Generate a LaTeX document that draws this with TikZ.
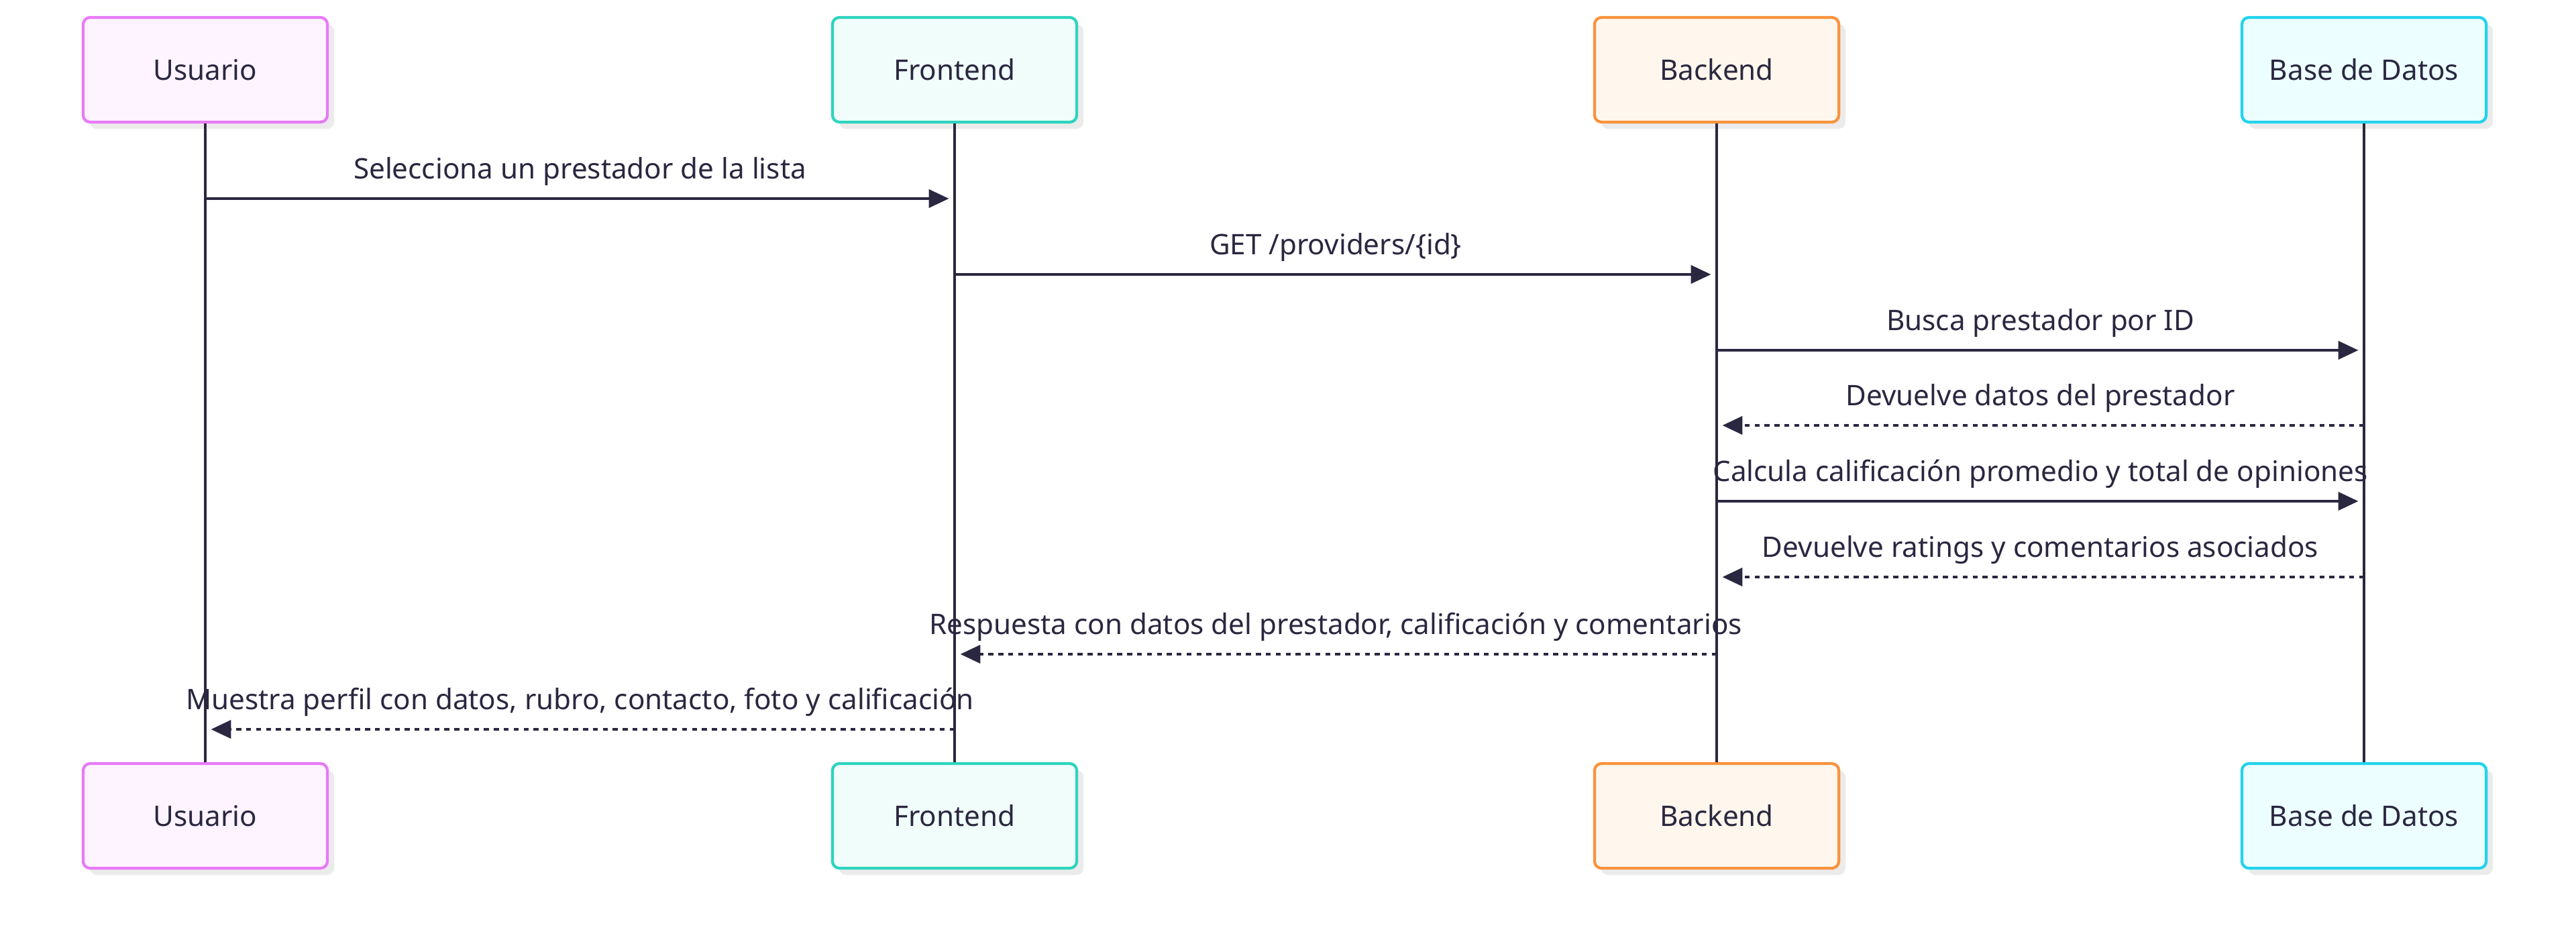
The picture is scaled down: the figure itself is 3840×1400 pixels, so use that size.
\documentclass[tikz,border=0pt]{standalone}
\usepackage{fontspec}
\setmainfont{Noto Sans}
\usetikzlibrary{arrows.meta,shadows}
\definecolor{ink}{HTML}{2A2740}
\definecolor{uBor}{HTML}{E879F9}\definecolor{uFil}{HTML}{FDF4FF}
\definecolor{fBor}{HTML}{2DD4BF}\definecolor{fFil}{HTML}{F0FDFA}
\definecolor{bBor}{HTML}{FB923C}\definecolor{bFil}{HTML}{FFF7ED}
\definecolor{dBor}{HTML}{22D3EE}\definecolor{dFil}{HTML}{ECFEFF}
\definecolor{shade}{HTML}{EBEBEB}
\begin{document}
\begin{tikzpicture}[x=0.01cm,y=-0.01cm,
  font=\fontsize{12pt}{14pt}\selectfont, text=ink,
  actor/.style={draw=#1Bor, fill=#1Fil, line width=1.2pt, rounded corners=3pt,
    minimum width=3.64cm, minimum height=1.56cm, inner sep=0pt,
    drop shadow={shadow xshift=0.1cm, shadow yshift=-0.1cm, fill=shade, opacity=1}},
  life/.style={draw=ink, line width=1pt},
  msg/.style={draw=ink, line width=1.35pt, -{Triangle[length=8.5pt,width=7.6pt]}, shorten >=2.4pt},
  reply/.style={msg, dash pattern=on 2.1pt off 2.1pt},
  lbl/.style={anchor=base, inner sep=0pt, yshift=8.3pt, text=ink}]
\useasboundingbox (0,0) rectangle (3840,1400);
% actors top
\node[actor=u] (uT) at (306,104) {Usuario};
\node[actor=f] (fT) at (1423,104) {Frontend};
\node[actor=b] (bT) at (2559,104) {Backend};
\node[actor=d] (dT) at (3524,104) {Base de Datos};
% actors bottom
\node[actor=u] (uB) at (306,1216) {Usuario};
\node[actor=f] (fB) at (1423,1216) {Frontend};
\node[actor=b] (bB) at (2559,1216) {Backend};
\node[actor=d] (dB) at (3524,1216) {Base de Datos};
% lifelines
\draw[life] (uT.south) -- (uB.north);
\draw[life] (fT.south) -- (fB.north);
\draw[life] (bT.south) -- (bB.north);
\draw[life] (dT.south) -- (dB.north);
% message rows
\coordinate (r1) at (0,296);
\coordinate (r2) at (0,409);
\coordinate (r3) at (0,522);
\coordinate (r4) at (0,634);
\coordinate (r5) at (0,747);
\coordinate (r6) at (0,860);
\coordinate (r7) at (0,975);
\coordinate (r8) at (0,1087);
\draw[msg] (uT |- r1) -- node[lbl] {Selecciona un prestador de la lista} (fT |- r1);
\draw[msg] (fT |- r2) -- node[lbl] {GET /providers/\{id\}} (bT |- r2);
\draw[msg] (bT |- r3) -- node[lbl] {Busca prestador por ID} (dT |- r3);
\draw[reply] (dT |- r4) -- node[lbl] {Devuelve datos del prestador} (bT |- r4);
\draw[msg] (bT |- r5) -- node[lbl] {Calcula calificación promedio y total de opiniones} (dT |- r5);
\draw[reply] (dT |- r6) -- node[lbl] {Devuelve ratings y comentarios asociados} (bT |- r6);
\draw[reply] (bT |- r7) -- node[lbl] {Respuesta con datos del prestador, calificación y comentarios} (fT |- r7);
\draw[reply] (fT |- r8) -- node[lbl] {Muestra perfil con datos, rubro, contacto, foto y calificación} (uT |- r8);
\end{tikzpicture}
\end{document}
